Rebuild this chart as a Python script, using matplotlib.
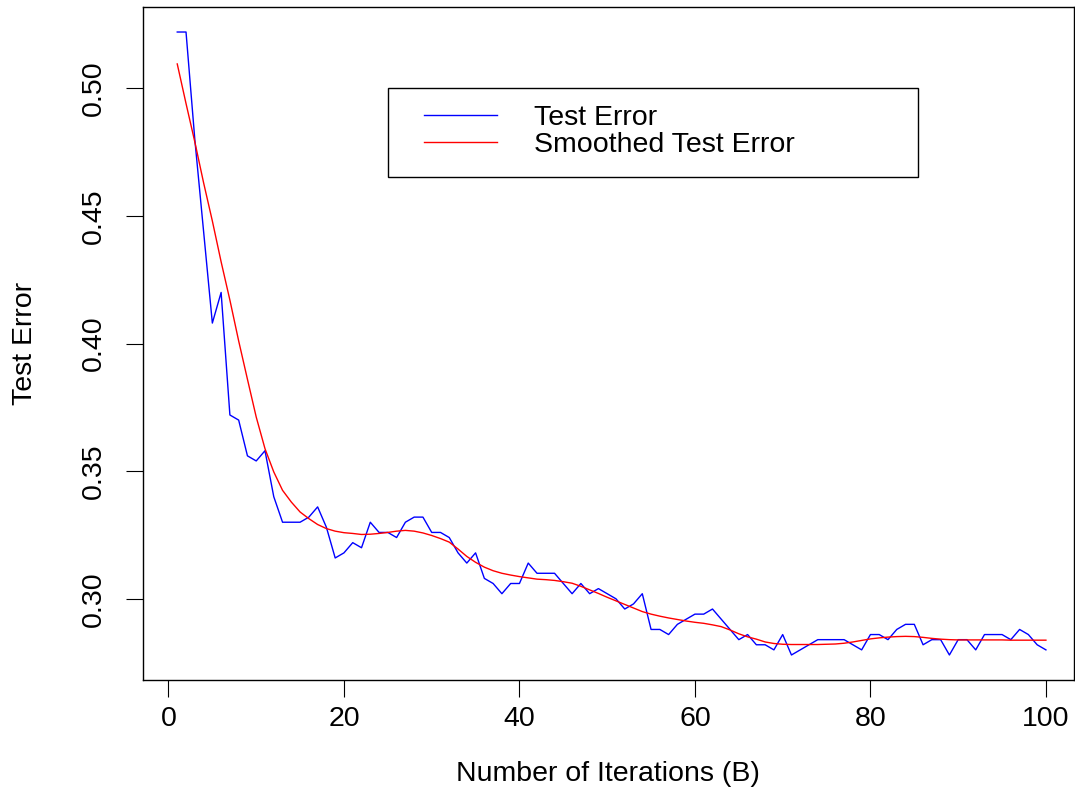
import numpy as np
import matplotlib
matplotlib.use('Agg')
import matplotlib.pyplot as plt
from matplotlib.patches import Rectangle

plt.rcParams['font.family'] = ['Liberation Sans', 'DejaVu Sans']

iterations = np.arange(1, 101)

test_error = [0.522, 0.522, 0.480, 0.444, 0.408, 0.420, 0.372, 0.370, 0.356, 0.354,
              0.358, 0.340, 0.330, 0.330, 0.330, 0.332, 0.336, 0.328, 0.316, 0.318,
              0.322, 0.320, 0.330, 0.326, 0.326, 0.324, 0.330, 0.332, 0.332, 0.326,
              0.326, 0.324, 0.318, 0.314, 0.318, 0.308, 0.306, 0.302, 0.306, 0.306,
              0.314, 0.310, 0.310, 0.310, 0.306, 0.302, 0.306, 0.302, 0.304, 0.302,
              0.300, 0.296, 0.298, 0.302, 0.288, 0.288, 0.286, 0.290, 0.292, 0.294,
              0.294, 0.296, 0.292, 0.288, 0.284, 0.286, 0.282, 0.282, 0.280, 0.286,
              0.278, 0.280, 0.282, 0.284, 0.284, 0.284, 0.284, 0.282, 0.280, 0.286,
              0.286, 0.284, 0.288, 0.290, 0.290, 0.282, 0.284, 0.284, 0.278, 0.284,
              0.284, 0.280, 0.286, 0.286, 0.286, 0.284, 0.288, 0.286, 0.282, 0.280]

smoothed = [0.5095, 0.4940, 0.4790, 0.4630, 0.4480, 0.4320, 0.4170, 0.4010, 0.3860, 0.3712,
            0.3588, 0.3497, 0.3425, 0.3379, 0.3340, 0.3314, 0.3291, 0.3275, 0.3265, 0.3259,
            0.3256, 0.3252, 0.3253, 0.3256, 0.3260, 0.3265, 0.3268, 0.3265, 0.3258, 0.3248,
            0.3236, 0.3222, 0.3195, 0.3166, 0.3143, 0.3124, 0.3110, 0.3100, 0.3093, 0.3087,
            0.3082, 0.3077, 0.3075, 0.3072, 0.3067, 0.3061, 0.3049, 0.3035, 0.3021, 0.3006,
            0.2992, 0.2978, 0.2964, 0.2950, 0.2940, 0.2932, 0.2925, 0.2919, 0.2913, 0.2908,
            0.2904, 0.2898, 0.2891, 0.2878, 0.2863, 0.2851, 0.2842, 0.2831, 0.2825, 0.2822,
            0.2821, 0.2821, 0.2821, 0.2821, 0.2822, 0.2823, 0.2826, 0.2831, 0.2837, 0.2843,
            0.2847, 0.2850, 0.2852, 0.2853, 0.2852, 0.2849, 0.2845, 0.2842, 0.2840, 0.2839,
            0.2839, 0.2839, 0.2839, 0.2839, 0.2839, 0.2838, 0.2838, 0.2838, 0.2838, 0.2838]

fs = 20.5

fig = plt.figure(figsize=(10.75, 7.9), dpi=100)
ax = fig.add_axes([142.5 / 1075, 1 - 680 / 790, 931.5 / 1075, 673 / 790])

ax.plot(iterations, test_error, color='blue', lw=1.0, label='Test Error')
ax.plot(iterations, smoothed, color='red', lw=1.0, label='Smoothed Test Error')

ax.set_xlim(-2.96, 103.2)
ax.set_ylim(0.2682, 0.5318)
ax.set_xticks([0, 20, 40, 60, 80, 100])
ax.set_yticks([0.30, 0.35, 0.40, 0.45, 0.50])
ax.set_yticklabels(['0.30', '0.35', '0.40', '0.45', '0.50'], rotation=90, va='center')

for s in ax.spines.values():
    s.set_linewidth(1.0)
ax.tick_params(direction='out', length=12, width=0.8, labelsize=fs)
ax.tick_params(axis='x', pad=7)
ax.tick_params(axis='y', pad=13.6)

ax.set_xlabel('Number of Iterations (B)', fontsize=fs)
ax.set_ylabel('Test Error', fontsize=fs)
ax.xaxis.set_label_coords(0.5, -0.1205)
ax.yaxis.set_label_coords(-0.112, 0.5)

# legend box drawn separately so it can be wider than its contents
ax.add_patch(Rectangle((0.2639, 0.7478), 0.5686, 0.1314, transform=ax.transAxes,
                       fill=False, edgecolor='black', lw=1.0, zorder=5))
ax.legend(loc='upper left', bbox_to_anchor=(0.3026, 0.855), frameon=False,
          fontsize=fs, handlelength=2.55, handletextpad=1.3, labelspacing=0.05,
          borderpad=0, borderaxespad=0)

fig.savefig('out.png', dpi=100)
